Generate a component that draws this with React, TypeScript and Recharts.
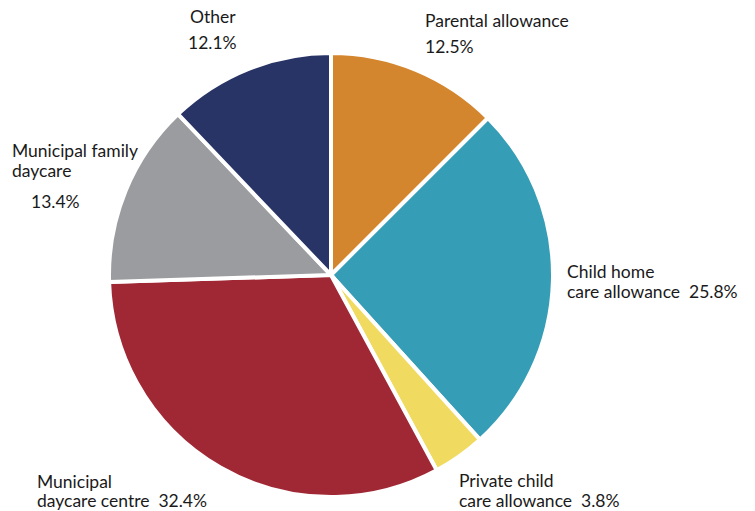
import React from "react";
import { PieChart, Pie, Cell } from "recharts";

const categories = [
  "Parental allowance",
  "Child home care allowance",
  "Private child care allowance",
  "Municipal daycare centre",
  "Municipal family daycare",
  "Other",
];
const shares = [12.5, 25.8, 3.8, 32.4, 13.4, 12.1];
const colors = ["#D4862E", "#359DB5", "#F0DB60", "#A02835", "#9B9C9F", "#293466"];

// label lines per slice (text only)
const labelLines: string[][] = [
  ["Parental allowance", "12.5%"],
  ["Child home", "care allowance  25.8%"],
  ["Private child", "care allowance  3.8%"],
  ["Municipal", "daycare centre  32.4%"],
  ["Municipal family", "daycare", "13.4%"],
  ["Other", "12.1%"],
];
// label anchor positions [x, baseline y] per line
const labelPos: number[][][] = [
  [[425, 27], [425, 53]],
  [[567, 278], [567, 298]],
  [[459, 487], [459, 507]],
  [[37, 488], [37, 507]],
  [[12, 157], [12, 177], [31, 208]],
  [[190, 23], [188, 49]],
];

const data = categories.map((name, i) => ({ name, value: shares[i] }));

const renderLabel = (props: any) => {
  const i = props.index;
  return (
    <text
      key={"lbl" + i}
      fill="#1a1a1a"
      fontSize={17.5}
      fontFamily="Lato, 'Open Sans', sans-serif"
      textAnchor="start"
      style={{ whiteSpace: "pre" }}
    >
      {labelLines[i].map((t, j) => (
        <tspan key={j} x={labelPos[i][j][0]} y={labelPos[i][j][1]}>
          {t}
        </tspan>
      ))}
    </text>
  );
};

export default function App() {
  return (
    <div style={{ position: "absolute", left: 0, top: 0, width: 755, height: 511, background: "#fff" }}>
      <PieChart width={755} height={511} margin={{ top: 0, right: 0, bottom: 0, left: 0 }}>
        <Pie
          data={data}
          dataKey="value"
          nameKey="name"
          cx={331}
          cy={275}
          outerRadius={222}
          innerRadius={0}
          startAngle={90}
          endAngle={-270}
          stroke="#ffffff"
          strokeWidth={4}
          label={renderLabel}
          labelLine={false}
          isAnimationActive={false}
        >
          {data.map((d, i) => (
            <Cell key={d.name} fill={colors[i]} />
          ))}
        </Pie>
      </PieChart>
    </div>
  );
}
